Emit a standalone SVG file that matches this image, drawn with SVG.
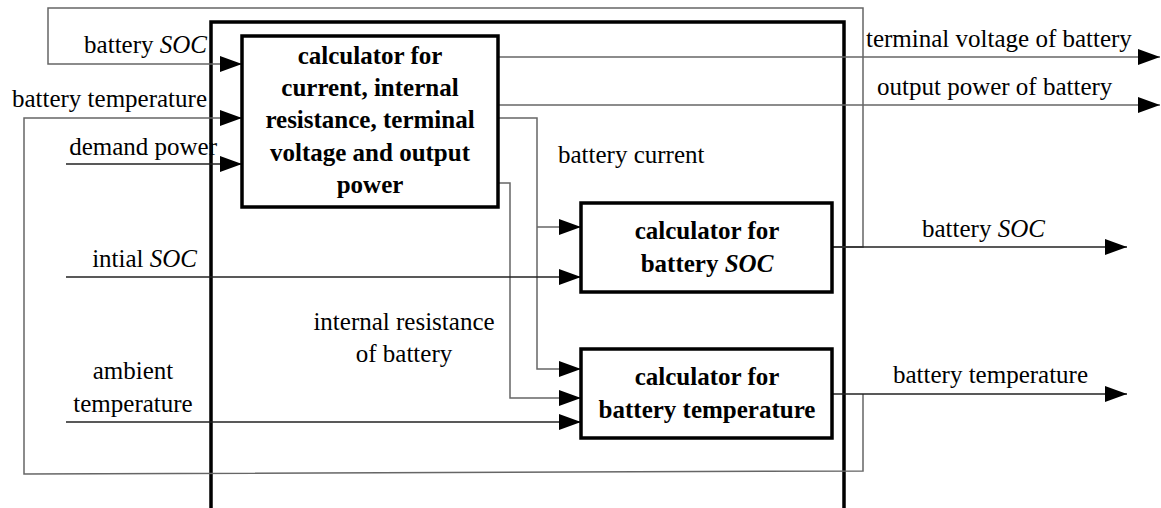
<svg xmlns="http://www.w3.org/2000/svg" width="1161" height="508" viewBox="0 0 1161 508">
<style>
text{font-family:'Liberation Serif','Times New Roman','DejaVu Serif','Noto Serif',serif;font-size:25px;fill:#000}
.b{font-weight:bold}
.i{font-style:italic}
.box{fill:#fff;stroke:#000;stroke-width:3.5}
.c{fill:none;stroke:#222;stroke-width:1.5}
.g{fill:none;stroke:#666;stroke-width:1.5}
</style>
<defs>
<marker id="ah" markerUnits="userSpaceOnUse" markerWidth="22" markerHeight="16" refX="22" refY="8" orient="auto" viewBox="0 0 22 16">
<path d="M0,0 L22,8 L0,16 z" fill="#000"/>
</marker>
</defs>
<rect width="1161" height="508" fill="#fff"/>
<g id="system">
<path d="M211,512 V22 H844 V512" fill="none" stroke="#000" stroke-width="3.5"/>
</g>
<g id="connectors">
<path class="g" d="M832,247 H863 V8 H48 V64 H242" marker-end="url(#ah)"/>
<path class="c" d="M832,247 H1127" marker-end="url(#ah)"/>
<path class="g" d="M863,394 V471 L24,474 V118 H242" marker-end="url(#ah)"/>
<path class="c" d="M832,394 H1127" marker-end="url(#ah)"/>
<path class="c" d="M66,164 H242" marker-end="url(#ah)"/>
<path class="g" d="M492,57 H1160" marker-end="url(#ah)"/>
<path class="g" d="M492,105 H1160" marker-end="url(#ah)"/>
<path class="g" d="M492,118 H537 V369 H581" marker-end="url(#ah)"/>
<path class="g" d="M537,227 H581" marker-end="url(#ah)"/>
<path class="g" d="M492,183 H510 V398 H581" marker-end="url(#ah)"/>
<path class="c" d="M66,277 H581" marker-end="url(#ah)"/>
<path class="c" d="M66,422 H581" marker-end="url(#ah)"/>
</g>
<g id="calc-main">
<rect class="box" x="242" y="36" width="256" height="171"/>
<text class="b" text-anchor="middle" x="370" y="64">calculator for</text>
<text class="b" text-anchor="middle" x="370" y="96">current, internal</text>
<text class="b" text-anchor="middle" x="370" y="128">resistance, terminal</text>
<text class="b" text-anchor="middle" x="370" y="161">voltage and output</text>
<text class="b" text-anchor="middle" x="370" y="193">power</text>
</g>
<g id="calc-soc">
<rect class="box" x="581" y="203" width="251" height="89"/>
<text class="b" text-anchor="middle" x="707" y="239">calculator for</text>
<text class="b" text-anchor="middle" x="707" y="272">battery <tspan class="i">SOC</tspan></text>
</g>
<g id="calc-temp">
<rect class="box" x="581" y="349" width="251" height="89"/>
<text class="b" text-anchor="middle" x="707" y="385">calculator for</text>
<text class="b" text-anchor="middle" x="707" y="418">battery temperature</text>
</g>
<g id="labels">
<text text-anchor="end" x="207" y="53">battery <tspan class="i">SOC</tspan></text>
<text text-anchor="end" x="207" y="107">battery temperature</text>
<text text-anchor="end" x="217" y="155">demand power</text>
<text text-anchor="end" x="197" y="267">intial <tspan class="i">SOC</tspan></text>
<text text-anchor="middle" x="133" y="379">ambient</text>
<text text-anchor="middle" x="133" y="412">temperature</text>
<text x="558" y="163">battery current</text>
<text text-anchor="middle" x="404" y="330">internal resistance</text>
<text text-anchor="middle" x="404" y="362">of battery</text>
<text x="866" y="47">terminal voltage of battery</text>
<text x="877" y="95">output power of battery</text>
<text x="922" y="237">battery <tspan class="i">SOC</tspan></text>
<text x="893" y="383">battery temperature</text>
</g>
</svg>
